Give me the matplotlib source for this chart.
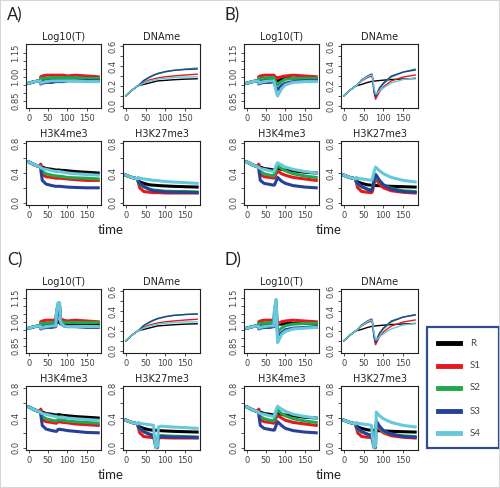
import matplotlib
matplotlib.use('Agg')
import matplotlib.pyplot as plt
from matplotlib.lines import Line2D
from matplotlib.patches import Rectangle
import numpy as np

# ---------------- data ----------------
TIME = [0, 15, 30, 31, 35, 45, 60, 70, 72, 76, 80, 82, 90, 100, 120, 150, 180]
SERIES = ['R', 'S1', 'S2', 'S3', 'S4']
COLORS = ['#000000', '#e8161f', '#1daa4b', '#27409a', '#66c8da']
PANELS = ['A)', 'B)', 'C)', 'D)']
TITLES = ['Log10(T)', 'DNAme', 'H3K4me3', 'H3K27me3']

# Panel A
A_LOG = [
    [.96, .97, .975, .985, .985, .985, .985, .99, .99, .99, .99, .99, .99, .99, .99, .99, .985],
    [.96, .97, .975, 1.0, 1.005, 1.01, 1.01, 1.01, 1.01, 1.01, 1.01, 1.01, 1.01, 1.005, 1.01, 1.005, 1.0],
    [.96, .97, .975, .99, .99, .99, .995, .995, .995, .995, .995, .995, .995, .995, .995, .99, .99],
    [.96, .97, .975, .955, .96, .965, .965, .97, .97, .97, .97, .97, .97, .975, .975, .975, .975],
    [.96, .97, .975, .96, .965, .97, .975, .975, .975, .975, .975, .975, .975, .975, .975, .97, .97],
]
A_DNA = [
    [.10, .155, .20, .20, .205, .215, .23, .24, .242, .246, .25, .251, .253, .256, .262, .268, .272],
    [.10, .155, .20, .20, .21, .235, .26, .27, .272, .276, .28, .282, .286, .292, .30, .31, .318],
    [.10, .155, .20, .20, .215, .25, .285, .305, .308, .315, .32, .323, .332, .342, .356, .37, .38],
    [.10, .155, .20, .20, .215, .255, .29, .31, .313, .319, .325, .328, .335, .345, .357, .366, .37],
    [.10, .155, .20, .20, .207, .228, .25, .258, .26, .264, .267, .269, .273, .278, .284, .29, .292],
]
A_K4 = [
    [.55, .51, .48, .48, .48, .46, .45, .44, .44, .44, .44, .435, .435, .43, .42, .41, .40],
    [.55, .51, .48, .52, .38, .35, .34, .33, .33, .33, .33, .33, .325, .32, .31, .30, .30],
    [.55, .51, .48, .48, .42, .39, .37, .36, .36, .36, .355, .355, .35, .34, .335, .33, .32],
    [.55, .51, .48, .45, .30, .25, .23, .22, .22, .22, .22, .22, .215, .21, .205, .20, .20],
    [.55, .51, .48, .47, .46, .45, .43, .42, .42, .42, .42, .415, .41, .40, .39, .38, .37],
]
A_K27 = [
    [.37, .34, .32, .30, .28, .26, .24, .235, .235, .233, .232, .23, .228, .225, .22, .215, .21],
    [.37, .34, .32, .28, .20, .15, .14, .135, .135, .135, .135, .135, .133, .13, .13, .13, .13],
    [.37, .34, .32, .29, .25, .21, .18, .17, .17, .168, .166, .165, .16, .155, .152, .15, .145],
    [.37, .34, .32, .29, .26, .22, .18, .16, .16, .158, .156, .155, .15, .145, .142, .14, .135],
    [.37, .34, .32, .34, .33, .32, .31, .30, .30, .30, .298, .297, .29, .285, .278, .27, .26],
]

# Panel B
B_LOG = [
    [.96, .97, .975, .985, .985, .985, .985, .99, .99, .98, .975, .98, .985, .99, .99, .99, .985],
    [.96, .97, .975, 1.0, 1.005, 1.01, 1.01, 1.01, 1.005, .995, .99, .995, 1.0, 1.005, 1.01, 1.005, 1.0],
    [.96, .97, .975, .99, .99, .99, .995, .995, .985, .96, .95, .955, .97, .985, .99, .99, .99],
    [.96, .97, .975, .955, .96, .965, .965, .97, .96, .93, .92, .925, .945, .96, .97, .975, .975],
    [.96, .97, .975, .96, .965, .97, .975, .975, .96, .91, .88, .89, .925, .95, .965, .97, .97],
]
B_DNA = [
    [.10, .155, .20, .20, .205, .215, .235, .245, .246, .248, .25, .251, .254, .258, .264, .27, .275],
    [.10, .155, .20, .20, .215, .25, .285, .30, .285, .14, .065, .08, .14, .19, .25, .29, .31],
    [.10, .155, .20, .20, .215, .26, .30, .315, .30, .16, .10, .11, .17, .22, .29, .34, .37],
    [.10, .155, .20, .20, .215, .26, .30, .32, .30, .15, .09, .11, .18, .23, .30, .34, .36],
    [.10, .155, .20, .20, .215, .255, .295, .31, .30, .18, .12, .12, .15, .18, .23, .265, .28],
]
B_K4 = [
    [.55, .51, .48, .48, .48, .46, .45, .44, .44, .46, .47, .46, .45, .44, .43, .41, .40],
    [.55, .51, .48, .52, .38, .35, .34, .33, .34, .39, .43, .42, .39, .37, .34, .32, .30],
    [.55, .51, .48, .48, .42, .39, .37, .36, .38, .45, .50, .49, .46, .43, .39, .36, .34],
    [.55, .51, .48, .45, .30, .26, .245, .235, .24, .29, .34, .33, .29, .26, .23, .21, .20],
    [.55, .51, .48, .47, .46, .45, .43, .42, .44, .50, .54, .53, .51, .48, .45, .42, .40],
]
B_K27 = [
    [.37, .34, .32, .30, .28, .26, .24, .235, .235, .233, .232, .23, .228, .225, .22, .215, .21],
    [.37, .34, .32, .28, .20, .15, .14, .135, .15, .25, .33, .31, .25, .20, .16, .14, .13],
    [.37, .34, .32, .29, .25, .21, .18, .17, .19, .29, .36, .35, .29, .24, .19, .16, .15],
    [.37, .34, .32, .29, .26, .22, .18, .16, .18, .30, .38, .37, .30, .24, .18, .15, .14],
    [.37, .34, .32, .34, .33, .32, .31, .30, .32, .41, .48, .47, .43, .39, .34, .30, .28],
]

# Panel C
C_LOG = [
    [.96, .97, .975, .985, .985, .985, .985, .99, .995, 1.0, .995, .99, .985, .985, .99, .99, .985],
    [.96, .97, .975, 1.0, 1.005, 1.01, 1.01, 1.01, 1.06, 1.11, 1.10, 1.02, 1.01, 1.005, 1.01, 1.005, 1.0],
    [.96, .97, .975, .99, .99, .99, .995, .995, 1.06, 1.11, 1.10, 1.01, .995, .995, .995, .995, .995],
    [.96, .97, .975, .955, .96, .965, .965, .97, 1.03, 1.07, 1.08, .99, .975, .97, .97, .965, .965],
    [.96, .97, .975, .96, .965, .97, .975, .975, 1.06, 1.12, 1.12, 1.0, .975, .97, .97, .97, .97],
]
C_DNA = [
    [.10, .155, .20, .20, .205, .215, .23, .24, .242, .246, .25, .251, .253, .256, .262, .268, .272],
    [.10, .155, .20, .20, .21, .235, .26, .27, .272, .276, .28, .282, .286, .292, .30, .31, .318],
    [.10, .155, .20, .20, .215, .25, .285, .305, .308, .315, .32, .323, .332, .342, .356, .366, .372],
    [.10, .155, .20, .20, .215, .255, .29, .31, .313, .319, .325, .328, .335, .345, .357, .366, .37],
    [.10, .155, .20, .20, .207, .228, .25, .258, .26, .264, .267, .269, .273, .278, .284, .29, .292],
]
C_K4 = [
    [.55, .51, .48, .48, .48, .46, .45, .44, .44, .445, .445, .44, .435, .43, .42, .41, .40],
    [.55, .51, .48, .52, .38, .35, .34, .33, .33, .35, .35, .345, .34, .335, .32, .31, .30],
    [.55, .51, .48, .48, .42, .39, .37, .36, .36, .38, .38, .375, .37, .36, .35, .34, .33],
    [.55, .51, .48, .45, .30, .25, .23, .22, .22, .245, .25, .245, .24, .23, .22, .205, .20],
    [.55, .51, .48, .47, .46, .45, .43, .42, .42, .41, .41, .415, .41, .40, .39, .38, .37],
]
C_K27 = [
    [.37, .34, .32, .30, .28, .26, .24, .235, .235, .233, .232, .23, .228, .225, .22, .215, .21],
    [.37, .34, .32, .28, .20, .15, .14, .135, .12, .10, .10, .13, .135, .133, .13, .13, .13],
    [.37, .34, .32, .29, .25, .21, .18, .17, .15, .10, .10, .16, .165, .16, .155, .15, .145],
    [.37, .34, .32, .29, .26, .22, .18, .16, .10, .0, .0, .14, .15, .145, .142, .14, .135],
    [.37, .34, .32, .34, .33, .32, .31, .30, .15, .0, .02, .28, .29, .285, .278, .27, .26],
]

# Panel D
D_LOG = [
    [.96, .97, .975, .985, .985, .985, .985, .99, .99, .99, .985, .985, .985, .99, .99, .99, .985],
    [.96, .97, .975, 1.0, 1.005, 1.01, 1.01, 1.01, 1.02, 1.02, .99, .99, 1.0, 1.005, 1.01, 1.005, 1.0],
    [.96, .97, .975, .99, .99, .99, .995, .995, 1.08, 1.13, .93, .94, .96, .975, .985, .99, .99],
    [.96, .97, .975, .955, .96, .965, .965, .97, 1.06, 1.11, .90, .91, .93, .95, .96, .965, .965],
    [.96, .97, .975, .96, .965, .97, .975, .975, 1.08, 1.14, .87, .88, .92, .94, .955, .96, .965],
]
D_DNA = [
    [.10, .155, .20, .20, .205, .215, .235, .245, .246, .248, .25, .251, .254, .258, .264, .27, .275],
    [.10, .155, .20, .20, .215, .25, .285, .30, .285, .14, .06, .075, .14, .19, .25, .29, .31],
    [.10, .155, .20, .20, .215, .26, .30, .315, .30, .16, .09, .10, .17, .22, .29, .34, .365],
    [.10, .155, .20, .20, .215, .26, .30, .32, .30, .15, .08, .10, .18, .23, .30, .34, .36],
    [.10, .155, .20, .20, .215, .255, .295, .31, .30, .18, .11, .11, .14, .17, .22, .26, .275],
]
D_K4 = [
    [.55, .51, .48, .48, .48, .46, .45, .44, .44, .46, .47, .46, .45, .44, .43, .41, .40],
    [.55, .51, .48, .52, .38, .35, .34, .33, .34, .40, .44, .43, .40, .37, .34, .32, .30],
    [.55, .51, .48, .48, .42, .39, .37, .36, .38, .46, .51, .50, .46, .43, .39, .36, .34],
    [.55, .51, .48, .45, .30, .26, .245, .235, .24, .30, .35, .34, .30, .26, .23, .21, .20],
    [.55, .51, .48, .47, .46, .45, .43, .42, .44, .51, .56, .55, .52, .49, .45, .42, .40],
]
D_K27 = [
    [.37, .34, .32, .30, .28, .26, .24, .235, .235, .233, .232, .23, .228, .225, .22, .215, .21],
    [.37, .34, .32, .28, .20, .15, .14, .135, .13, .12, .24, .30, .25, .20, .16, .14, .13],
    [.37, .34, .32, .29, .25, .21, .18, .17, .16, .14, .25, .32, .27, .22, .18, .16, .15],
    [.37, .34, .32, .29, .26, .22, .18, .16, .10, .0, .0, .36, .29, .23, .18, .15, .14],
    [.37, .34, .32, .34, .33, .32, .31, .30, .15, .0, .02, .48, .43, .39, .34, .30, .28],
]

PANEL_DATA = [
    [A_LOG, A_DNA, A_K4, A_K27],
    [B_LOG, B_DNA, B_K4, B_K27],
    [C_LOG, C_DNA, C_K4, C_K27],
    [D_LOG, D_DNA, D_K4, D_K27],
]

# ---------------- layout ----------------
W, H = 500, 488
fig = plt.figure(figsize=(W / 100, H / 100), dpi=100)
fig.patch.set_facecolor('white')


def add_ax(x, y, w, h):
    return fig.add_axes([x / W, 1 - (y + h) / H, w / W, h / H])


OFFSETS = [(0, 0), (218, 0), (0, 245), (218, 245)]
SUB = [(26, 44, 75, 64), (123, 44, 77, 64), (26, 141, 75, 64), (123, 141, 77, 64)]

YCFG = [
    dict(lim=(0.805, 1.205), ticks=np.arange(0.85, 1.151, 0.05), labs={0.85: '0.85', 1.00: '1.00', 1.15: '1.15'}),
    dict(lim=(-0.024, 0.624), ticks=np.arange(0, 0.61, 0.1), labs={0.0: '0.0', 0.2: '0.2', 0.4: '0.4', 0.6: '0.6'}),
    dict(lim=(-0.032, 0.832), ticks=np.arange(0, 0.81, 0.2), labs={0.0: '0.0', 0.4: '0.4', 0.8: '0.8'}),
    dict(lim=(-0.032, 0.832), ticks=np.arange(0, 0.81, 0.2), labs={0.0: '0.0', 0.4: '0.4', 0.8: '0.8'}),
]

tick_fs = 6
tick_col = '#444444'

for p, (ox, oy) in enumerate(OFFSETS):
    fig.text((ox + 7) / W, 1 - (oy + 15) / H, PANELS[p], fontsize=12, family='Lato',
             va='center', ha='left', color='#222222')
    fig.text((ox + 111) / W, 1 - (oy + 230) / H, 'time', fontsize=9.5, family='Lato',
             va='center', ha='center', color='#222222')
    for k, (sx, sy, sw, sh) in enumerate(SUB):
        ax = add_ax(ox + sx, oy + sy, sw, sh)
        data = PANEL_DATA[p][k]
        lw = 1.0 if k == 1 else 2.2
        for s in range(5):
            ax.plot(TIME, data[s], color=COLORS[s], lw=lw, solid_joinstyle='round')
        cfg = YCFG[k]
        ax.set_ylim(*cfg['lim'])
        ax.set_xlim(-7.2, 187.2)
        ax.set_xticks([0, 50, 100, 150])
        ax.set_xticklabels(['0', '50', '100', '150'])
        ax.set_yticks(cfg['ticks'])
        labels = []
        for t in cfg['ticks']:
            lab = ''
            for key, val in cfg['labs'].items():
                if abs(t - key) < 1e-6:
                    lab = val
            labels.append(lab)
        ax.set_yticklabels(labels, rotation=90, va='center')
        ax.tick_params(axis='both', labelsize=tick_fs, length=2.5, width=0.6,
                       pad=1.5, colors='#333333', labelcolor=tick_col)
        for sp in ax.spines.values():
            sp.set_linewidth(0.8)
            sp.set_color('#222222')
        ax.set_title(TITLES[k], fontsize=7, pad=3, color='#222222')

# legend box
fig.add_artist(Rectangle((427 / W, 1 - 448 / H), 72 / W, 121 / H, transform=fig.transFigure,
                         fill=False, edgecolor='#2e4d8f', lw=1.6))
LEG_Y = [343, 366, 388, 411, 433]
for s in range(5):
    y = 1 - LEG_Y[s] / H
    fig.add_artist(Line2D([438 / W, 460 / W], [y, y], transform=fig.transFigure,
                          color=COLORS[s], lw=3.5))
    fig.text(470 / W, y, SERIES[s], fontsize=7, family='Lato', va='center', ha='left',
             color='#444444')

# faint outer frame
fig.add_artist(Rectangle((0, 0), 1, 1, transform=fig.transFigure, fill=False,
                         edgecolor='#d0d0d0', lw=1.2))

fig.savefig('out.png', dpi=100)
